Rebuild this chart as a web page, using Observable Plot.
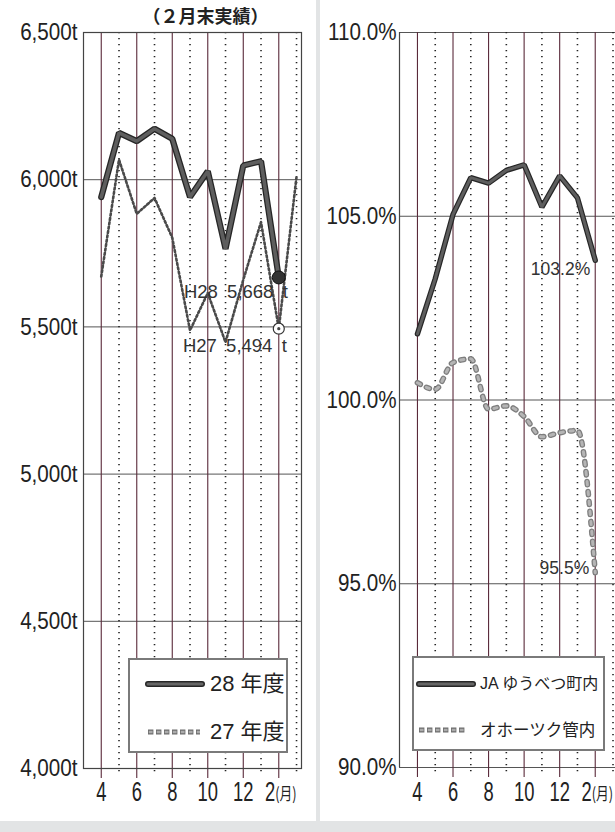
<!DOCTYPE html>
<html><head><meta charset="utf-8">
<script src="https://cdn.jsdelivr.net/npm/d3@7"></script>
<script src="https://cdn.jsdelivr.net/npm/@observablehq/plot@0.6"></script>
<style>
body{margin:0;background:#e2e4e5;width:615px;height:832px;overflow:hidden;font-family:"Liberation Sans",Arial,"Noto Sans CJK JP",sans-serif;}
#wrap{position:relative;width:615px;height:821px;}
.panel{position:absolute;top:0;height:821px;background:#fff;}
#left{left:0;width:316px;}
#right{left:320px;width:295px;}
.legend{position:absolute;background:#fff;border:2px solid #7a7a7a;box-sizing:border-box;}
.legend svg{position:absolute;left:0;top:0;overflow:visible;}
.legend text{font-family:"Liberation Sans","Noto Sans CJK JP",sans-serif;fill:#222;dominant-baseline:middle;}
</style></head><body>
<div id="wrap">
  <div class="panel" id="left"></div>
  <div class="panel" id="right"></div>
</div>
<script>
// ---- data ----
const months = [4,5,6,7,8,9,10,11,12,1,2,3];
const h28 = [5941,6159,6131,6173,6139,5941,6029,5765,6048,6063,5668];            // 28年度
const h27 = [5671,6068,5884,5938,5803,5488,5615,5448,5660,5856,5494,6010];       // 27年度
const ja = [101.8,103.3,105.05,106.05,105.9,106.25,106.4,105.25,106.1,105.5,103.8]; // JAゆうべつ町内
const okhotsk = [100.47,100.29,101.02,101.12,99.75,99.84,99.55,99.0,99.11,99.17,95.3]; // オホーツク管内
const tonTicks = [4000,4500,5000,5500,6000,6500];
const pctTicks = [90,95,100,105,110];
const xTickIdx = [0,2,4,6,8,10];
const xTickLabels = ["4","6","8","10","12","2"];
const monthUnit = "(月)";
const title = "（２月末実績）";
const labelH28 = "H28 5,668 t";
const labelH27 = "H27 5,494 t";
const labelJA = "103.2%";
const labelOk = "95.5%";
const legendLeft = ["28 年度","27 年度"];
const legendRight = ["JA ゆうべつ町内","オホーツク管内"];

// ---- derived tables ----
const idx = months.map((m,i)=>i);
const evenIdx = idx.filter(i=>i%2===0), oddIdx = idx.filter(i=>i%2===1);
const d28 = h28.map((v,i)=>({i,v})), d27 = h27.map((v,i)=>({i,v}));
const dJA = ja.map((v,i)=>({i,v})), dOk = okhotsk.map((v,i)=>({i,v}));
const wide = s => s.replace(/ /g,"\u2002");

const font = {fontFamily:"'Liberation Sans', Arial, 'Noto Sans CJK JP', sans-serif", background:"transparent", color:"#222"};
const gridMarks = (bot) => [
  Plot.ruleX(evenIdx, {x:d=>d, stroke:"#5a2a3a", strokeWidth:1.1, insetBottom:-bot}),
  Plot.ruleX(oddIdx, {x:d=>d, stroke:"#222", strokeWidth:1.6, strokeDasharray:"1.3,4.7", insetBottom:-(bot-3)})
];
const xLabels = (dyv) => [
  Plot.text(xTickIdx.slice(0,5), {x:d=>d, text:d=>xTickLabels[xTickIdx.indexOf(d)], frameAnchor:"bottom", dy:dyv, fontSize:27, lineAnchor:"middle", fill:"#222"}),
  Plot.text(xTickIdx.slice(5), {x:d=>d, text:d=>xTickLabels[xTickIdx.indexOf(d)], frameAnchor:"bottom", dy:dyv, dx:-3.5, textAnchor:"end", fontSize:27, lineAnchor:"middle", fill:"#222"}),
  Plot.text(xTickIdx.slice(5), {x:d=>d, text:()=>monthUnit, frameAnchor:"bottom", dy:dyv+2, dx:-3.5, textAnchor:"start", fontSize:17, lineAnchor:"middle", fill:"#222", fontFamily:"'Noto Sans CJK JP', sans-serif"})
];

// ---- left chart ----
const xDomL = [-1, 11.28];
const left = Plot.plot({
  width:316, height:821, marginLeft:83, marginRight:15, marginTop:32, marginBottom:53,
  x:{domain:xDomL, axis:null}, y:{domain:[4000,6500], axis:null},
  style:font,
  marks:[
    Plot.ruleY(tonTicks, {stroke:"#555", strokeWidth:1}),
    ...gridMarks(10),
    Plot.frame({stroke:"#444", strokeWidth:1.2}),
    Plot.axisY(tonTicks, {tickSize:0, tickPadding:6, fontSize:24, label:null, tickFormat:d=>d3.format(",")(d)+"t"}),
    ...xLabels(24),
    Plot.line(d27, {x:"i", y:"v", stroke:"#4a4a4a", strokeWidth:2.6, strokeDasharray:"2,2.4"}),
    Plot.line(d28, {x:"i", y:"v", stroke:"#262626", strokeWidth:6.2, strokeLinejoin:"miter"}),
    Plot.line(d28, {x:"i", y:"v", stroke:"#5e5e5e", strokeWidth:3.6, strokeLinejoin:"miter"}),
    Plot.dot(d28.slice(-1), {x:"i", y:"v", r:6.5, fill:"#333", stroke:"#111", strokeWidth:1}),
    Plot.dot(d27.filter(d=>d.i===10), {x:"i", y:"v", r:5.5, fill:"#fff", stroke:"#333", strokeWidth:1.2}),
    Plot.dot(d27.filter(d=>d.i===10), {x:"i", y:"v", r:1.6, fill:"#444"}),
    Plot.text(d28.slice(-1), {x:"i", y:"v", text:()=>wide(labelH28), textAnchor:"end", dx:9, dy:14.5, fontSize:18.5, fill:"#333", lineAnchor:"middle"}),
    Plot.text(d27.filter(d=>d.i===10), {x:"i", y:"v", text:()=>wide(labelH27), textAnchor:"end", dx:8, dy:17, fontSize:18.5, fill:"#333", lineAnchor:"middle"}),
    Plot.text([title], {text:d=>d, frameAnchor:"top", dy:-15, dx:13, fontSize:18, fontWeight:"bold", lineAnchor:"middle", fill:"#222", fontFamily:"'Noto Sans CJK JP', sans-serif"})
  ]
});

// ---- right chart ----
const xDomR = [-1.01, 11.14];
const right = Plot.plot({
  width:295, height:821, marginLeft:79, marginRight:0, marginTop:32, marginBottom:54,
  x:{domain:xDomR, axis:null}, y:{domain:[90,110], axis:null},
  style:font,
  marks:[
    Plot.ruleY(pctTicks, {stroke:"#555", strokeWidth:1}),
    ...gridMarks(10),
    Plot.ruleX([xDomR[0]], {stroke:"#444", strokeWidth:1.2}),
    Plot.axisY(pctTicks, {tickSize:0, tickPadding:3, fontSize:24, label:null, tickFormat:d=>d.toFixed(1)+"%"}),
    ...xLabels(25),
    Plot.line(dOk, {x:"i", y:"v", curve:"monotone-x", stroke:"#7e7e7e", strokeWidth:5.6, strokeDasharray:"3.2,6.8", strokeLinecap:"round"}),
    Plot.line(dOk, {x:"i", y:"v", curve:"monotone-x", stroke:"#b5b5b5", strokeWidth:3, strokeDasharray:"3.2,6.8", strokeLinecap:"round"}),
    Plot.line(dJA, {x:"i", y:"v", stroke:"#262626", strokeWidth:5.4, strokeLinejoin:"miter"}),
    Plot.line(dJA, {x:"i", y:"v", stroke:"#5e5e5e", strokeWidth:3, strokeLinejoin:"miter"}),
    Plot.text(dJA.slice(-1), {x:"i", y:"v", text:()=>labelJA, textAnchor:"end", dx:-5, dy:9, fontSize:17.5, fill:"#333", lineAnchor:"middle"}),
    Plot.text(dOk.slice(-1), {x:"i", y:"v", text:()=>labelOk, textAnchor:"end", dx:-6, dy:-4, fontSize:17.5, fill:"#333", lineAnchor:"middle"})
  ]
});

// condensed look of the tick labels
function condense(svg){
  svg.querySelectorAll("text").forEach(t=>{
    const s = t.textContent;
    let k = null;
    if (/^[\d,]+t$/.test(s) || /^\d+\.0%$/.test(s)) k = 0.86;
    else if (/^\d+$/.test(s)) k = 0.68;
    else if (s === monthUnit) k = 0.75;
    if (k) {
      const x = +(t.getAttribute("x") || 0);
      const tr = t.getAttribute("transform") || "";
      t.setAttribute("transform", `${tr} translate(${x},0) scale(${k},1) translate(${-x},0)`);
    }
  });
}
condense(left); condense(right);
document.getElementById("left").appendChild(left);
document.getElementById("right").appendChild(right);

// ---- legends ----
function legend(parent, box, items, opts){
  const div = document.createElement("div");
  div.className = "legend";
  Object.assign(div.style, {left:box[0]+"px", top:box[1]+"px", width:box[2]+"px", height:box[3]+"px"});
  const ns = "http://www.w3.org/2000/svg";
  const svg = document.createElementNS(ns,"svg");
  svg.setAttribute("width", box[2]); svg.setAttribute("height", box[3]);
  const add = (tag, attrs, txt) => { const e = document.createElementNS(ns, tag); for (const k in attrs) e.setAttribute(k, attrs[k]); if (txt) e.textContent = txt; svg.appendChild(e); };
  const [sx1, sx2, dx2, y1, y2, tx] = opts.geom;
  add("line", {x1:sx1, x2:sx2, y1:y1, y2:y1, stroke:"#262626", "stroke-width":6, "stroke-linecap":"round"});
  add("line", {x1:sx1, x2:sx2, y1:y1, y2:y1, stroke:"#666", "stroke-width":3, "stroke-linecap":"round"});
  add("line", {x1:sx1, x2:dx2, y1:y2, y2:y2, stroke:"#6d6d6d", "stroke-width":5, "stroke-dasharray":"5.4,2.6"});
  add("line", {x1:sx1+0.8, x2:dx2, y1:y2, y2:y2, stroke:"#acacac", "stroke-width":2.4, "stroke-dasharray":"3.8,4.2"});
  add("text", {x:tx, y:y1+1, "font-size":opts.fs[0]}, items[0]);
  add("text", {x:tx, y:y2+1.5, "font-size":opts.fs[1]}, items[1]);
  div.appendChild(svg);
  parent.appendChild(div);
}
legend(document.getElementById("left"), [128,658,160,95], legendLeft, {geom:[18,72,70,24,72,80], fs:[22,22]});
legend(document.getElementById("right"), [92,656,193,95], legendRight, {geom:[5,59,53,26,72,66], fs:[16,16.5]});
</script>
</body></html>
